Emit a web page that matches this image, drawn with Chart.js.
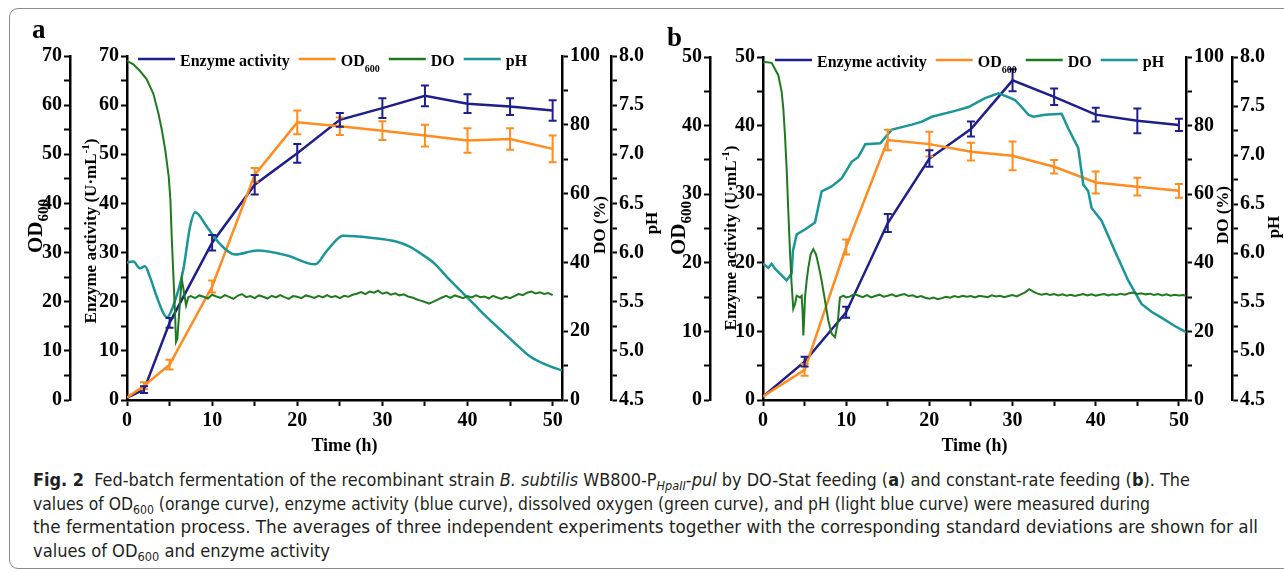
<!DOCTYPE html>
<html>
<head>
<meta charset="utf-8">
<script src="https://cdn.jsdelivr.net/npm/chart.js@4.4.0/dist/chart.umd.min.js"></script>
<style>
  body { margin:0; background:#fff; width:1284px; height:573px; overflow:hidden; position:relative; }
  .frame { position:absolute; left:9px; top:8px; width:1300px; height:559px; border:1px solid #8c8c8c; border-radius:9px; }
  canvas { position:absolute; top:0; }
  #chartA { left:0; }
  #chartB { left:640px; }
  .panel { position:absolute; font:bold 27px 'Liberation Serif', serif; color:#000; }
  .caption { position:absolute; left:33px; top:468px; font-family:'Liberation Sans Narrow','DejaVu Sans Condensed',sans-serif; font-size:18px; color:#231f20; }
  .caption div { white-space:nowrap; height:23.5px; line-height:23.5px; width:max-content; transform-origin:left center; }
  .caption sub { font-size:70%; line-height:0; vertical-align:-0.3em; }
</style>
</head>
<body>
<div class="frame"></div>
<canvas id="chartA" width="680" height="465"></canvas>
<canvas id="chartB" width="644" height="465"></canvas>
<div class="panel" style="left:32px; top:14px;">a</div>
<div class="panel" style="left:667px; top:22px;">b</div>
<div class="caption">
  <div data-w="1157"><b>Fig. 2</b>&nbsp; Fed-batch fermentation of the recombinant strain <i>B. subtilis</i> WB800-P<sub><i>HpaII</i></sub>-<i>pul</i> by DO-Stat feeding (<b>a</b>) and constant-rate feeding (<b>b</b>). The</div>
  <div data-w="1117">values of OD<sub>600</sub> (orange curve), enzyme activity (blue curve), dissolved oxygen (green curve), and pH (light blue curve) were measured during</div>
  <div data-w="1225">the fermentation process. The averages of three independent experiments together with the corresponding standard deviations are shown for all</div>
  <div data-w="297">values of OD<sub>600</sub> and enzyme activity</div>
</div>
<script>
// ---- panel a: DO-Stat feeding ----
const hoursA = [0, 2, 5, 10, 15, 20, 25, 30, 35, 40, 45, 50];
const enzymeA = [0.5, 2.1, 15.7, 32.0, 43.8, 50.2, 57.0, 59.4, 61.9, 60.3, 59.7, 58.9];
const enzymeErrA = [0, 0.7, 1.0, 1.6, 2.0, 1.9, 1.4, 2.0, 2.1, 1.9, 1.7, 2.1];
const odA = [0.5, 2.9, 7.2, 23.1, 45.8, 56.5, 55.7, 54.8, 53.8, 52.8, 53.1, 51.1];
const odErrA = [0, 0.7, 1.0, 1.2, 1.4, 2.4, 1.8, 1.9, 2.2, 2.5, 2.2, 2.7];

const doHoursA = [0, 0.75, 1.5, 2.3, 3.1, 3.7, 4.1, 4.5, 4.9, 5.1, 5.25, 5.45, 5.65, 5.76, 5.92, 6.16, 6.43, 6.63, 6.94, 7.2,
  7.5, 8, 8.5, 9, 9.5, 10, 10.5, 11, 11.5, 12, 12.5, 13, 13.5, 14, 14.5, 15, 15.5, 16, 16.5, 17, 17.5, 18, 18.5, 19, 19.5,
  20, 20.5, 21, 21.5, 22, 22.5, 23, 23.5, 24, 24.5, 25, 25.5, 26, 26.5, 27, 27.5, 28, 28.5, 29, 29.5, 30, 30.5, 31, 31.5,
  32, 32.5, 33, 33.5, 34, 34.5, 35, 35.5, 36, 36.5, 37, 37.5, 38, 38.5, 39, 39.5, 40, 40.5, 41, 41.5, 42, 42.5, 43, 43.5,
  44, 44.5, 45, 45.5, 46, 46.5, 47, 47.5, 48, 48.5, 49, 49.5, 50];
const doA = [98.6, 97.6, 95.7, 93.3, 89.0, 83.2, 78.4, 72.6, 64.9, 58.2, 47.6, 36.1, 24.6, 16.9, 17.9, 26.5, 35.2, 32.3, 27.5, 29.9,
  30.2, 29.6, 30.4, 30.0, 29.5, 30.6, 30.1, 29.7, 30.5, 30.0, 29.4, 30.3, 30.8, 29.9, 30.2, 29.6, 30.4, 30.0, 29.5, 30.3, 29.8, 30.5, 29.9, 29.4, 30.2,
  30.0, 29.6, 30.4, 30.1, 29.7, 30.3, 29.8, 30.5, 29.9, 30.2, 29.6, 30.3, 30.0, 30.6, 30.9, 31.4, 30.8, 31.5, 31.2, 31.8, 30.9, 31.3, 30.6, 31.0,
  30.4, 30.7, 30.1, 29.8, 29.3, 28.9, 28.5, 28.0, 28.6, 29.2, 29.8, 30.3, 29.7, 30.4, 30.0, 29.6, 30.2, 29.8, 30.4, 29.9, 30.1, 29.5, 30.3, 29.8,
  29.4, 30.0, 29.6, 30.2, 30.8, 30.5, 31.2, 31.5, 31.0, 31.3, 30.8, 31.1, 30.5];

const phHoursA = [0, 0.75, 1.5, 2.1, 2.7, 3.5, 4.3, 4.7, 5.4, 6.6, 7.4, 8.0, 9.4, 10.9, 12.7, 15.3, 18.8, 22.1, 23.5, 25.4,
  28.6, 31.7, 33.2, 34.5, 36.1, 37.6, 39.2, 40.7, 42.3, 44.3, 45.8, 47.4, 49.2, 51.1];
const phA = [5.90, 5.91, 5.84, 5.86, 5.75, 5.55, 5.38, 5.34, 5.45, 5.82, 6.26, 6.41, 6.26, 6.09, 5.98, 6.02, 5.97, 5.88, 6.02, 6.17,
  6.15, 6.11, 6.06, 5.99, 5.89, 5.75, 5.61, 5.48, 5.34, 5.18, 5.06, 4.94, 4.86, 4.80];

// ---- panel b: constant-rate feeding ----
const hoursB = [0, 5, 10, 15, 20, 25, 30, 35, 40, 45, 50];
const enzymeB = [0.5, 5.6, 12.8, 25.8, 35.2, 39.5, 46.6, 44.2, 41.6, 40.7, 40.1];
const enzymeErrB = [0, 0.7, 0.8, 1.3, 1.2, 1.1, 1.6, 1.2, 1.0, 1.8, 0.9];
const odB = [0.5, 4.4, 22.3, 37.9, 37.3, 36.2, 35.6, 34.0, 31.7, 31.1, 30.5];
const odErrB = [0, 0.85, 1.1, 1.5, 1.8, 1.3, 2.1, 1.0, 1.6, 1.3, 1.0];

const doHoursB = [0, 1.04, 1.84, 2.24, 2.44, 2.64, 2.84, 3.04, 3.24, 3.44, 3.64, 3.85, 4.05, 4.45, 4.65, 4.77, 4.85, 4.97, 5.05,
  5.25, 5.45, 5.73, 6.05, 6.37, 6.65, 7.05, 7.45, 7.85, 8.25, 8.65, 8.97, 9.25, 9.66, 10.0,
  10.5, 11, 11.5, 12, 12.5, 13, 13.5, 14, 14.5, 15, 15.5, 16, 16.5, 17, 17.5, 18, 18.5, 19, 19.5, 20, 20.5, 21, 21.5,
  22, 22.5, 23, 23.5, 24, 24.5, 25, 25.5, 26, 26.5, 27, 27.5, 28, 28.5, 29, 29.5, 30, 30.5, 31, 31.5, 32, 32.5, 33, 33.5,
  34, 34.5, 35, 35.5, 36, 36.5, 37, 37.5, 38, 38.5, 39, 39.5, 40, 40.5, 41, 41.5, 42, 42.5, 43, 43.5, 44, 44.5, 45, 45.5,
  46, 46.5, 47, 47.5, 48, 48.5, 49, 49.5, 50, 50.5, 50.9];
const doB = [98.6, 98.3, 94.7, 89.9, 85.0, 77.3, 67.6, 55.1, 43.5, 33.8, 26.6, 28.0, 30.4, 29.9, 30.4, 25.1, 18.8, 25.1, 29.9,
  34.8, 38.6, 42.5, 44.0, 42.5, 39.6, 34.8, 29.0, 23.2, 19.3, 18.3, 22.2, 29.9, 30.4, 29.9,
  30.2, 30.9, 30.4, 30.0, 30.6, 29.9, 30.3, 30.7, 30.1, 30.4, 30.8, 30.2, 30.6, 30.9, 30.3, 30.5, 30.0, 30.3, 29.8, 29.5, 29.9, 29.4, 29.7,
  30.1, 29.8, 30.3, 30.0, 30.4, 30.1, 30.3, 29.9, 30.4, 30.2, 30.0, 30.5, 30.2, 30.4, 30.0, 30.3, 30.6, 30.2, 30.8, 31.4, 32.3, 31.6, 31.0, 30.7,
  31.0, 30.6, 30.9, 30.5, 30.8, 30.4, 30.7, 30.3, 30.6, 30.9, 30.5, 30.8, 30.4, 30.7, 30.9, 30.5, 30.8, 30.6, 31.0, 30.7, 31.1, 31.3, 30.9, 31.1,
  30.8, 31.0, 30.6, 30.9, 30.5, 30.8, 30.4, 30.7, 30.5, 30.6, 30.4];

const phHoursB = [0, 0.64, 1.04, 1.44, 2.84, 3.44, 3.6, 4.05, 5.05, 6.25, 7.05, 8.25, 9.45, 10.66, 11.46, 12.3, 14.1, 15.5, 17.9,
  19.1, 20.3, 23.1, 24.7, 26.7, 28.3, 29.5, 30.3, 31.1, 31.9, 32.5, 33.9, 35.9, 36.7, 37.9, 38.5, 39.1, 39.5, 40.7, 42.3, 43.9,
  45.5, 46.7, 47.9, 49.4, 50.9];
const phB = [5.89, 5.85, 5.89, 5.84, 5.72, 5.79, 6.02, 6.19, 6.24, 6.31, 6.63, 6.68, 6.76, 6.93, 6.98, 7.11, 7.12, 7.26, 7.31,
  7.34, 7.39, 7.45, 7.49, 7.58, 7.63, 7.59, 7.56, 7.49, 7.41, 7.39, 7.41, 7.42, 7.27, 7.07, 6.70, 6.63, 6.46, 6.33, 6.02, 5.72,
  5.48, 5.40, 5.34, 5.26, 5.19];

// ---- ticks ----
const timeTicks = [0, 5, 10, 15, 20, 25, 30, 35, 40, 45, 50];
const leftTicksA = [0, 5, 10, 15, 20, 25, 30, 35, 40, 45, 50, 55, 60, 65, 70];
const leftTicksB = [0, 5, 10, 15, 20, 25, 30, 35, 40, 45, 50];
const doTicks = [0, 10, 20, 30, 40, 50, 60, 70, 80, 90, 100];
const phTicks = [4.5, 4.75, 5.0, 5.25, 5.5, 5.75, 6.0, 6.25, 6.5, 6.75, 7.0, 7.25, 7.5, 7.75, 8.0];

const FONT = "'Liberation Serif', 'Times New Roman', serif";
const C_ENZ = '#1e1e8c';
const C_OD = '#ff8c1e';
const C_DO = '#1f7a1f';
const C_PH = '#1b9696';

const zip = (xs, ys) => xs.map((x, i) => ({ x: x, y: ys[i] }));
const onStep = (v, step) => Math.abs(v / step - Math.round(v / step)) < 1e-6;

function axis(pos, weight, min, max, ticks, labelEvery, size, fmt) {
  return {
    type: 'linear', position: pos, weight: weight, min: min, max: max,
    afterBuildTicks: s => { s.ticks = ticks.map(v => ({ value: v })); },
    afterFit: s => { if (pos === 'bottom') s.height = size; else s.width = size; },
    ticks: {
      autoSkip: false, maxRotation: 0, padding: pos === 'bottom' ? 3 : 2, color: '#000',
      font: { family: FONT, size: 20, weight: 'bold' },
      callback: v => onStep(v, labelEvery) ? fmt(v) : ''
    },
    grid: { drawOnChartArea: false, drawTicks: true, tickLength: 6, tickWidth: 2, tickColor: '#000' },
    border: { display: true, color: '#000', width: 2.5 }
  };
}

function richWidth(ctx, parts) {
  let w = 0;
  parts.forEach(pt => { ctx.font = 'bold ' + pt.size + 'px ' + FONT; w += ctx.measureText(pt.t).width; });
  return w;
}

function drawRich(ctx, parts, x, y, rot, align) {
  ctx.save();
  ctx.translate(x, y);
  if (rot) ctx.rotate(rot);
  const w = richWidth(ctx, parts);
  let cx = align === 'left' ? 0 : -w / 2;
  const base = parts[0].size * 0.35;
  ctx.fillStyle = '#000';
  ctx.textBaseline = 'alphabetic';
  ctx.textAlign = 'left';
  parts.forEach(pt => {
    ctx.font = 'bold ' + pt.size + 'px ' + FONT;
    ctx.fillText(pt.t, cx, base + (pt.dy || 0));
    cx += ctx.measureText(pt.t).width;
  });
  ctx.restore();
}

function decorPlugin(p) {
  return {
    id: 'decor',
    afterDatasetsDraw(chart) {
      const ctx = chart.ctx;
      // error bars
      chart.data.datasets.forEach((ds, i) => {
        if (!ds.errs) return;
        const meta = chart.getDatasetMeta(i);
        const ys = chart.scales[ds.yAxisID];
        ctx.save();
        ctx.strokeStyle = ds.borderColor;
        ctx.lineWidth = 2;
        meta.data.forEach((pt, j) => {
          const e = ds.errs[j];
          if (!e) return;
          const v = ds.data[j].y;
          const y1 = ys.getPixelForValue(v - e), y2 = ys.getPixelForValue(v + e);
          ctx.beginPath();
          ctx.moveTo(pt.x, y1); ctx.lineTo(pt.x, y2);
          ctx.moveTo(pt.x - 4, y1); ctx.lineTo(pt.x + 4, y1);
          ctx.moveTo(pt.x - 4, y2); ctx.lineTo(pt.x + 4, y2);
          ctx.stroke();
        });
        ctx.restore();
      });
    },
    afterDraw(chart) {
      const ctx = chart.ctx;
      const s = chart.scales;
      const ca = chart.chartArea;
      const up = -Math.PI / 2;
      // axis titles
      drawRich(ctx, [{ t: 'OD', size: 21 }, { t: '600', size: 15, dy: 6 }], s.yOD.right - p.t.od[0], p.t.od[1], up);
      drawRich(ctx, [{ t: 'Enzyme activity (U·mL', size: 17 }, { t: '-1', size: 11, dy: -7 }, { t: ')', size: 17 }],
        s.yEnz.right - p.t.enz[0], p.t.enz[1], up);
      drawRich(ctx, [{ t: 'DO (%)', size: 17 }], s.yDO.left + p.t.dox[0], p.t.dox[1], up);
      drawRich(ctx, [{ t: 'pH', size: 17 }], s.yPH.left + p.t.ph[0], p.t.ph[1], up);
      drawRich(ctx, [{ t: 'Time (h)', size: 18 }], (ca.left + ca.right) / 2, 445, 0);
      // legend
      const items = [
        { c: C_ENZ, parts: [{ t: 'Enzyme activity', size: 16 }] },
        { c: C_OD, parts: [{ t: 'OD', size: 16 }, { t: '600', size: 10, dy: 6 }] },
        { c: C_DO, parts: [{ t: 'DO', size: 16 }] },
        { c: C_PH, parts: [{ t: 'pH', size: 16 }] }
      ];
      let x = ca.left + p.legendDx;
      const y = ca.top + 3;
      items.forEach(it => {
        ctx.save();
        ctx.strokeStyle = it.c; ctx.lineWidth = 2.5;
        ctx.beginPath(); ctx.moveTo(x, y); ctx.lineTo(x + 37, y); ctx.stroke();
        ctx.restore();
        x += 42;
        drawRich(ctx, it.parts, x, y + 1, 0, 'left');
        x += richWidth(ctx, it.parts) + 9;
      });
    }
  };
}

function buildChart(id, p) {
  return new Chart(document.getElementById(id), {
    type: 'line',
    data: {
      datasets: [
        { label: 'DO', data: zip(p.doHours, p.doVals), yAxisID: 'yDO', borderColor: C_DO, borderWidth: 2, pointRadius: 0, tension: 0 },
        { label: 'pH', data: zip(p.phHours, p.phVals), yAxisID: 'yPH', borderColor: C_PH, borderWidth: 2.5, pointRadius: 0,
          cubicInterpolationMode: p.phSmooth ? 'monotone' : 'default', tension: 0 },
        { label: 'OD600', data: zip(p.hours, p.od), errs: p.odErr, yAxisID: 'yOD', borderColor: C_OD, borderWidth: 2.5, pointRadius: 0, tension: 0 },
        { label: 'Enzyme activity', data: zip(p.hours, p.enz), errs: p.enzErr, yAxisID: 'yEnz', borderColor: C_ENZ, borderWidth: 2.5, pointRadius: 0, tension: 0 }
      ]
    },
    options: {
      responsive: false, animation: false, devicePixelRatio: 1, events: [],
      layout: { padding: { top: p.padTop, left: 15, right: p.padRight, bottom: 5 } },
      plugins: { legend: { display: false }, tooltip: { enabled: false } },
      scales: {
        x: axis('bottom', 0, 0, p.xMax, timeTicks, 10, 60, v => String(v)),
        yOD: axis('left', 2, 0, p.leftMax, p.leftTicks, 10, 55, v => String(v)),
        yEnz: axis('left', 1, 0, p.leftMax, p.leftTicks, 10, p.w[0], v => String(v)),
        yDO: axis('right', 1, 0, 100, doTicks, 20, p.w[1], v => String(v)),
        yPH: axis('right', 2, 4.5, 8.0, phTicks, 0.5, p.w[2], v => v.toFixed(1))
      }
    },
    plugins: [decorPlugin(p)]
  });
}

buildChart('chartA', {
  hours: hoursA, enz: enzymeA, enzErr: enzymeErrA, od: odA, odErr: odErrA,
  doHours: doHoursA, doVals: doA, phHours: phHoursA, phVals: phA, phSmooth: true,
  xMax: 51.1, leftMax: 70, leftTicks: leftTicksA,
  padTop: 56, padRight: 20, w: [57, 49, 49], legendDx: 11,
  t: { od: [35, 226], enz: [37, 231], dox: [37, 225], ph: [40, 223] }
});

buildChart('chartB', {
  hours: hoursB, enz: enzymeB, enzErr: enzymeErrB, od: odB, odErr: odErrB,
  doHours: doHoursB, doVals: doB, phHours: phHoursB, phVals: phB, phSmooth: false,
  xMax: 50.85, leftMax: 50, leftTicks: leftTicksB,
  padTop: 57, padRight: 0, w: [53, 46, 52], legendDx: 12,
  t: { od: [32, 228], enz: [33, 238], dox: [36, 215], ph: [41, 227] }
});

// fit caption lines to the widths in the figure
function fitCaption() {
  document.querySelectorAll('.caption div').forEach(d => {
    d.style.transform = 'none';
    const w = d.getBoundingClientRect().width;
    d.style.transform = 'scaleX(' + (Number(d.dataset.w) / w) + ')';
  });
}
fitCaption();
if (document.fonts && document.fonts.ready) document.fonts.ready.then(fitCaption);
</script>
</body>
</html>
